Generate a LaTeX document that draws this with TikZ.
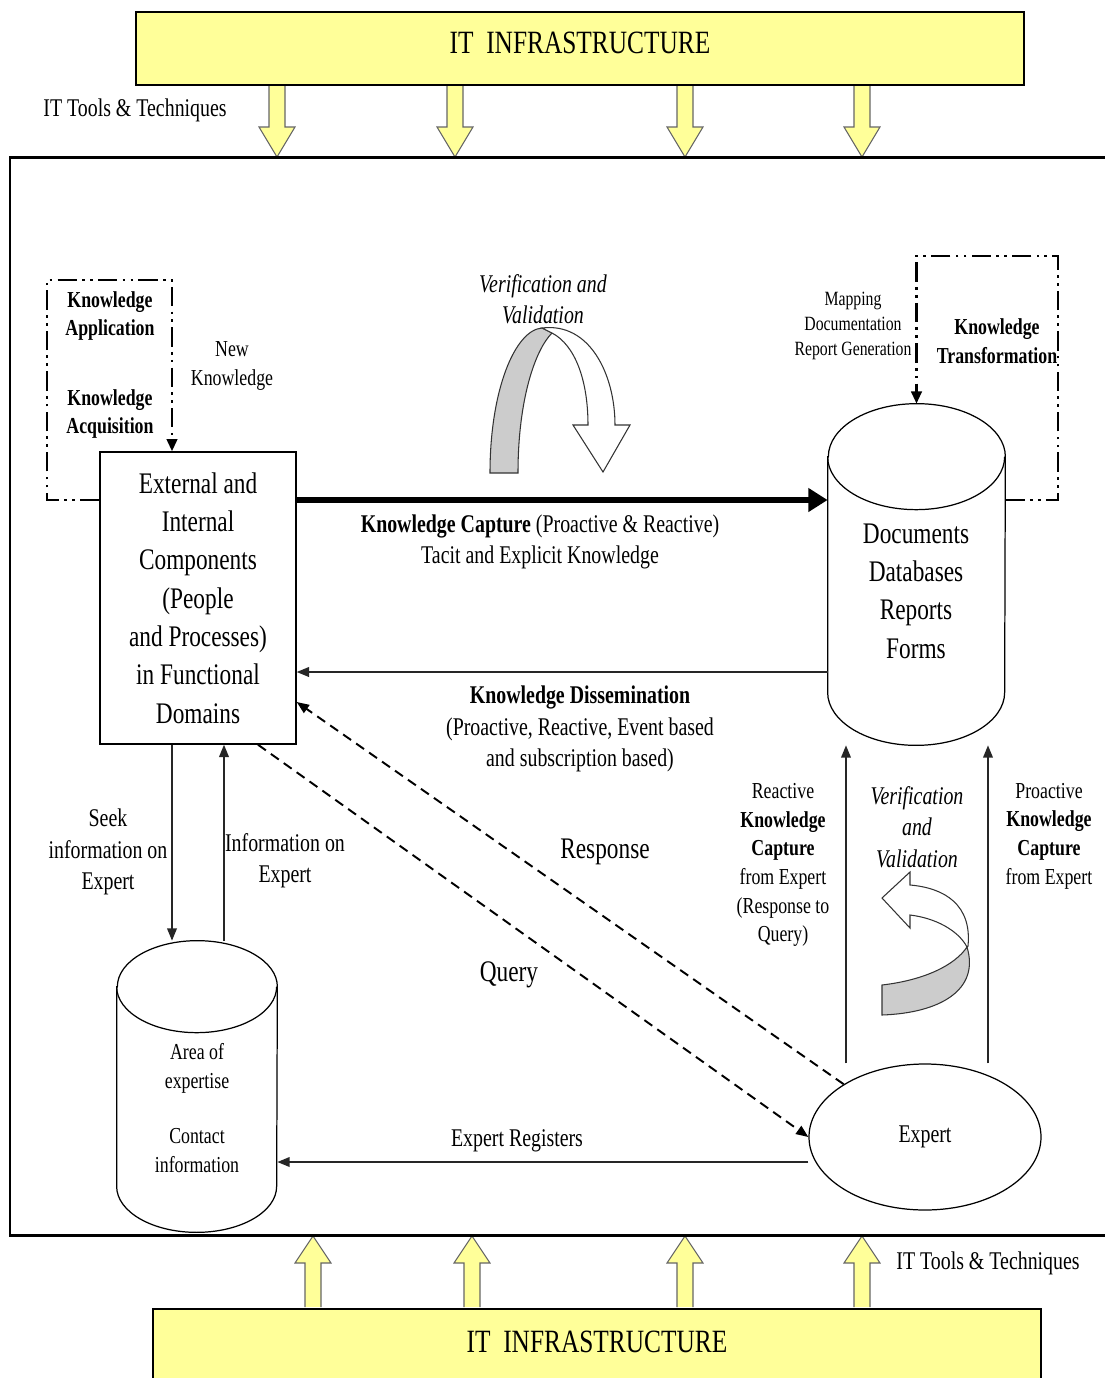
\documentclass[tikz,border=0pt]{standalone}
\usepackage{fontspec}
\setmainfont{Liberation Serif}[FakeStretch=0.78]
\usetikzlibrary{arrows.meta,shapes.geometric}
\definecolor{infrayellow}{RGB}{255,255,153}
\def\px{0.2mm}
\def\fsinfra{\fontsize{18.5}{22}\selectfont}
\def\fsbig{\fontsize{17}{21.8}\selectfont}
\def\fslab{\fontsize{14.5}{17.8}\selectfont}
\def\fsmid{\fontsize{13}{16.3}\selectfont}
\def\fssmall{\fontsize{11.5}{14}\selectfont}
\def\toolarrow(#1:#2:#3:#4){\draw[tool] (#1-8,#2) -- (#1-8,#4) -- (#1-18,#4) -- (#1,#3) -- (#1+18,#4) -- (#1+8,#4) -- (#1+8,#2);}
\def\drum(#1:#2:#3){\draw[drumline, fill=white] ([yshift=-#3*\px]#1.north west) -- ([yshift=#3*\px]#1.south west) arc[start angle=180, end angle=360, x radius=#2*\px, y radius=#3*\px] -- ([yshift=-#3*\px]#1.north east) arc[start angle=0, end angle=180, x radius=#2*\px, y radius=#3*\px] -- cycle;
	\draw[drumline] ([yshift=-#3*\px]#1.north west) arc[start angle=180, end angle=360, x radius=#2*\px, y radius=#3*\px];}

\begin{document}
\begin{tikzpicture}[x=\px, y=-\px,
		infra/.style={draw, line width=1.2pt, fill=infrayellow, font=\fsinfra, inner sep=0pt},
		tool/.style={draw=black!60, line width=0.6pt, fill=infrayellow},
		frame/.style={line width=1.7pt},
		drumline/.style={line width=0.7pt},
		box/.style={draw, line width=0.8pt, align=center, font=\fsbig, inner sep=0pt},
		lab/.style={align=center, font=\fslab, inner sep=1pt},
		flow/.style={draw=black!85, line width=0.9pt, -{Triangle[length=7pt, width=5.5pt]}},
		capture/.style={line width=3.4pt, -{Triangle[length=11pt, width=13pt]}},
		query/.style={flow, draw=black, line width=1.1pt, dash pattern=on 5.5pt off 3.5pt},
		loopline/.style={line width=1.5pt, dash pattern=on 11pt off 3pt on 1.5pt off 3pt on 1.5pt off 3pt, -{Triangle[length=7pt, width=6pt]}},
		curlarrow/.style={draw=black!80, line width=0.6pt}]
		%%%%% START %%%%%
		
		\useasboundingbox (0,0) rectangle (1105,1378);
		
		\foreach \x in {277,455,685,862} \toolarrow(\x:86:157:127);
		\foreach \x in {313,472,685,862} \toolarrow(\x:1307:1236:1263);
		
		\node[infra, text depth=6pt, minimum width=888*\px, minimum height=73*\px] (topinfra) at (580,48.5) {IT\ \ INFRASTRUCTURE};
		\node[infra, text depth=3pt, anchor=north, minimum width=888*\px, minimum height=70*\px] (botinfra) at (597,1308) {IT\ \ INFRASTRUCTURE};
		
		\draw[frame] (1105,157) -- (10,157) -- (10,1235) -- (1105,1235);
		
		\node[lab] (toolstop) at (135,110) {IT Tools \& Techniques};
		\node[lab] (toolsbot) at (988,1263) {IT Tools \& Techniques};
		
		\node[box, minimum width=196*\px, minimum height=292*\px] (comp) at (198,598) {External and\\Internal\\Components\\(People\\and Processes)\\in Functional\\Domains};
		
		\node[minimum width=177*\px, minimum height=341*\px, inner sep=0pt] (docs) at (916.5,574.5) {};
		\drum(docs:88.5:53)
		\node[lab, font=\fsbig] (docstext) at (916,591) {Documents\\Databases\\Reports\\Forms};
		
		\node[minimum width=160*\px, minimum height=291*\px, inner sep=0pt] (area) at (197,1086.5) {};
		\drum(area:80:46)
		\node[lab, font=\fsmid] (areatext) at (197,1108) {Area of\\expertise\\[15pt]Contact\\information};
		
		\node[draw, ellipse, line width=0.7pt, minimum width=232*\px, minimum height=146*\px, font=\fslab] (expert) at (925,1137) {Expert};
		
		% knowledge loops
		\draw[loopline] (comp.west |- 0,500) -- (47,500) -- (47,280) -- (172,280) -- (comp.north -| 172,0);
		\node[lab, font=\fsmid\bfseries] (kapp) at (110,316) {Knowledge\\Application};
		\node[lab, font=\fsmid\bfseries] (kacq) at (110,414) {Knowledge\\Acquisition};
		\node[lab, font=\fsmid] (newk) at (232,366) {New\\Knowledge};
		
		\draw[loopline] (docs.east |- 0,500) -- (1058,500) -- (1058,256) -- (916.5,256) -- (docs.north);
		\node[lab, font=\fssmall] (mapping) at (853,326) {Mapping\\Documentation\\Report Generation};
		\node[lab, font=\fsmid\bfseries] (ktrans) at (997,341) {Knowledge\\Transformation};
		
		% verification arrows
		\node[lab, font=\fslab\itshape] (vvtop) at (543,299) {Verification and\\Validation};
		\draw[curlarrow, fill=black!20] (490,473) .. controls (490,390) and (515,330) .. (542,328) -- (552,333) .. controls (535,350) and (518,400) .. (518,473) -- cycle;
		\draw[curlarrow, fill=white] (542,328) .. controls (590,322) and (615,375) .. (615,425) -- (630,425) -- (603,472) -- (573,425) -- (588,425) .. controls (588,380) and (575,345) .. (552,333) -- cycle;
		
		\node[lab, font=\fslab\itshape] (vvbot) at (917,827) {Verification\\and\\Validation};
		\draw[curlarrow, fill=black!20] (882,1015) -- (882,985) .. controls (925,980) and (955,965) .. (967,947) .. controls (980,990) and (940,1013) .. (882,1015) -- cycle;
		\draw[curlarrow, fill=white] (968,946) .. controls (972,905) and (945,888) .. (910,885) -- (910,872) -- (882,898) -- (910,928) -- (910,915) .. controls (935,918) and (958,930) .. (967,947) -- cycle;
		
		% capture and dissemination
		\draw[capture] (comp.east |- 0,500) -- (docs.west |- 0,500);
		\node[lab] (kcap) at (540,542) {\textbf{Knowledge Capture} (Proactive \& Reactive)\\Tacit and Explicit Knowledge};
		
		\draw[flow] (docs.west |- 0,672) -- (comp.east |- 0,672);
		\node[lab] (kdiss) at (580,729) {\textbf{Knowledge Dissemination}\\(Proactive, Reactive, Event based\\and subscription based)};
		
		% query and response
		\draw[query] (expert.147) -- (comp.east |- 0,702);
		\draw[query] (comp.south -| 258,0) -- (expert.west);
		\node[lab, font=\fsbig] (resp) at (605,852) {Response};
		\node[lab, font=\fsbig] (query) at (509,975) {Query};
		
		% expert directory
		\draw[flow] (comp.south -| 172,0) -- (area.north -| 172,0);
		\draw[flow] (area.north -| 224,0) -- (comp.south -| 224,0);
		\node[lab] (seek) at (108,852) {Seek\\information on\\Expert};
		\node[lab] (infoexp) at (285,861) {Information on\\Expert};
		
		\draw[flow] (expert.west |- 0,1162) -- (area.east |- 0,1162);
		\node[lab] (expreg) at (517,1141) {Expert Registers};
		
		% expert capture
		\draw[flow] (expert.north -| 846,0) -- (docs.south -| 846,0);
		\draw[flow] (expert.north -| 988,0) -- (docs.south -| 988,0);
		\node[lab, font=\fsmid] (reactive) at (783,865) {Reactive\\\textbf{Knowledge}\\\textbf{Capture}\\from Expert\\(Response to\\Query)};
		\node[lab, font=\fsmid] (proactive) at (1049,836) {Proactive\\\textbf{Knowledge}\\\textbf{Capture}\\from Expert};
		
		%%%%% END %%%%%
	\end{tikzpicture}
\end{document}
